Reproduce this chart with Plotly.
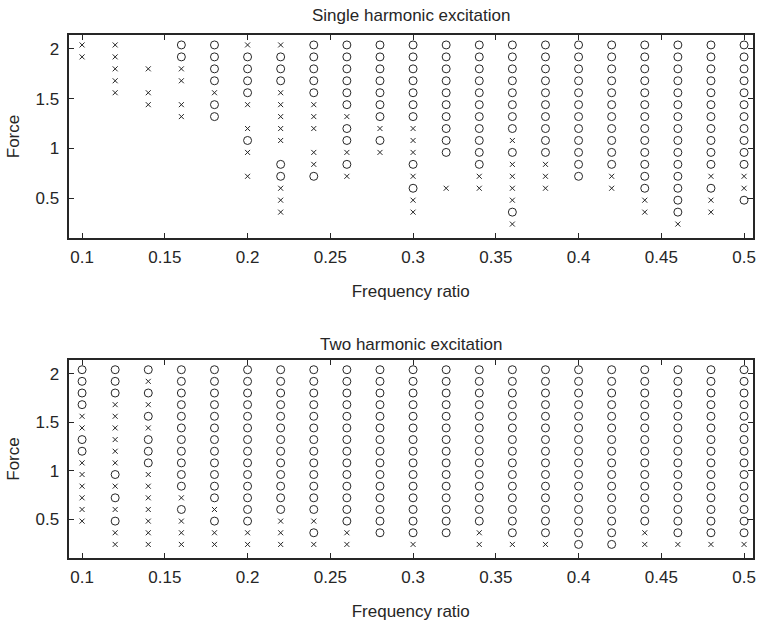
import plotly.graph_objects as go

# Frequency ratio columns and force levels (rows listed from top 2.04 down to 0.24)
freq_ratio = [0.10, 0.12, 0.14, 0.16, 0.18, 0.20, 0.22, 0.24, 0.26, 0.28, 0.30,
              0.32, 0.34, 0.36, 0.38, 0.40, 0.42, 0.44, 0.46, 0.48, 0.50]
force_levels = [2.04, 1.92, 1.80, 1.68, 1.56, 1.44, 1.32, 1.20, 1.08, 0.96,
                0.84, 0.72, 0.60, 0.48, 0.36, 0.24]

# 'o' = circle, 'x' = cross, '.' = nothing ; one string per frequency ratio
single_harmonic = [
    "xx..............",  # 0.10
    "xxxxx...........",  # 0.12
    "..x.xx..........",  # 0.14
    "ooxx.xx.........",  # 0.16
    "ooooxoo.........",  # 0.18
    "xoooox.xox.x....",  # 0.20
    "xoooxxxxx.ooxxx.",  # 0.22
    "oooooxxx.xxo....",  # 0.24
    "ooooooxooxox....",  # 0.26
    "oooooooxox......",  # 0.28
    "oooooooxxxoxoxx.",  # 0.30
    "oooooooooo..x...",  # 0.32
    "oooooooooooxx...",  # 0.34
    "ooooooooxoxxxxox",  # 0.36
    "ooooooooooxxx...",  # 0.38
    "oooooooooooo....",  # 0.40
    "oooooooooooxx...",  # 0.42
    "oooooooooooooxx.",  # 0.44
    "ooooooooooooooox",  # 0.46
    "oooooooooooxoxx.",  # 0.48
    "oooooooooooxxo..",  # 0.50
]
two_harmonic = [
    "ooooxxooxxxxxx..",  # 0.10
    "oooxxxxxxoxoxoxx",  # 0.12
    "oxoxoxoooxxxxxxx",  # 0.14
    "oooooooooooxoxxx",  # 0.16
    "ooooooooooooxoxx",  # 0.18
    "ooooooooooooooxx",  # 0.20
    "oooooooooooooxxx",  # 0.22
    "oooooooooooooxox",  # 0.24
    "ooooooooooooooxx",  # 0.26
    "ooooooooooooooo.",  # 0.28
    "ooooooooooooooox",  # 0.30
    "ooooooooooooooo.",  # 0.32
    "ooooooooooooooxx",  # 0.34
    "ooooooooooooooox",  # 0.36
    "ooooooooooooooox",  # 0.38
    "oooooooooooooooo",  # 0.40
    "oooooooooooooooo",  # 0.42
    "ooooooooooooooxx",  # 0.44
    "ooooooooooooooox",  # 0.46
    "ooooooooooooooox",  # 0.48
    "ooooooooooooooox",  # 0.50
]

x_ticks = [0.1, 0.15, 0.2, 0.25, 0.3, 0.35, 0.4, 0.45, 0.5]
x_tick_text = ["0.1", "0.15", "0.2", "0.25", "0.3", "0.35", "0.4", "0.45", "0.5"]
y_ticks = [0.5, 1, 1.5, 2]
y_tick_text = ["0.5", "1", "1.5", "2"]

for grid in (single_harmonic, two_harmonic):
    assert len(grid) == len(freq_ratio)
    for col in grid:
        assert len(col) == len(force_levels), col


def split(codes):
    ox, oy, xx, xy = [], [], [], []
    for fr, col in zip(freq_ratio, codes):
        for lvl, c in zip(force_levels, col):
            if c == "o":
                ox.append(fr); oy.append(lvl)
            elif c == "x":
                xx.append(fr); xy.append(lvl)
    return ox, oy, xx, xy


W, H = 761, 633
FONT = "Liberation Sans, Arial, Helvetica, sans-serif"
INK = "#262626"
FS = 17

fig = go.Figure()
for codes, xa, ya in [(single_harmonic, "x", "y"), (two_harmonic, "x2", "y2")]:
    ox, oy, xx, xy = split(codes)
    fig.add_trace(go.Scatter(x=ox, y=oy, mode="markers", xaxis=xa, yaxis=ya,
                             marker=dict(symbol="circle-open", size=8,
                                         line=dict(width=1, color=INK), color=INK),
                             showlegend=False, hoverinfo="x+y"))
    fig.add_trace(go.Scatter(x=xx, y=xy, mode="markers", xaxis=xa, yaxis=ya,
                             marker=dict(symbol="x-thin-open", size=5,
                                         line=dict(width=1, color=INK), color=INK),
                             showlegend=False, hoverinfo="x+y"))

x_dom = [68.5 / W, 753 / W]
top_dom = [1 - 238 / H, 1 - 35 / H]
bot_dom = [1 - 558 / H, 1 - 360 / H]

common_x = dict(range=[0.0918, 0.5054], tickvals=x_ticks, ticktext=x_tick_text,
                showline=True, mirror="ticks", linecolor=INK, linewidth=2,
                ticks="inside", ticklen=5, tickcolor=INK, tickwidth=1,
                showgrid=False, zeroline=False, automargin=False,
                ticklabelstandoff=3,
                tickfont=dict(family=FONT, size=FS, color=INK),
                title=dict(text="Frequency ratio", standoff=19,
                           font=dict(family=FONT, size=FS, color=INK)))
common_y = dict(range=[0.10, 2.14], tickvals=y_ticks, ticktext=y_tick_text,
                showline=True, mirror="ticks", linecolor=INK, linewidth=2,
                ticks="inside", ticklen=5, tickcolor=INK, tickwidth=1,
                showgrid=False, zeroline=False, automargin=False,
                ticklabelstandoff=4,
                tickfont=dict(family=FONT, size=FS, color=INK),
                title=dict(text="Force", standoff=12,
                           font=dict(family=FONT, size=FS, color=INK)))

fig.update_layout(
    width=W, height=H,
    margin=dict(l=0, r=0, t=0, b=0),
    paper_bgcolor="white", plot_bgcolor="white",
    xaxis=dict(domain=x_dom, anchor="y", **common_x),
    yaxis=dict(domain=top_dom, anchor="x", **common_y),
    xaxis2=dict(domain=x_dom, anchor="y2", **common_x),
    yaxis2=dict(domain=bot_dom, anchor="x2", **common_y),
    annotations=[
        dict(text="Single harmonic excitation", x=(x_dom[0] + x_dom[1]) / 2,
             y=1 - 16 / H, xref="paper", yref="paper", showarrow=False,
             xanchor="center", yanchor="middle",
             font=dict(family=FONT, size=FS, color=INK)),
        dict(text="Two harmonic excitation", x=(x_dom[0] + x_dom[1]) / 2,
             y=1 - 344 / H, xref="paper", yref="paper", showarrow=False,
             xanchor="center", yanchor="middle",
             font=dict(family=FONT, size=FS, color=INK)),
    ],
)

fig.write_html("out.html",
               config={"displayModeBar": False},
               post_script="document.body.style.margin='0';"
                           "document.body.style.overflow='hidden';")
